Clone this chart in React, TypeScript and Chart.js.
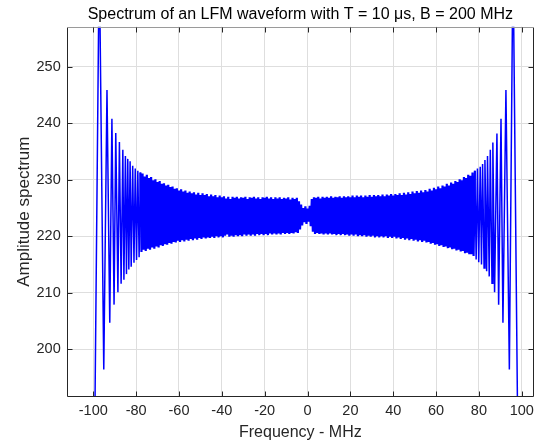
import React, { useEffect, useRef } from "react";
import { Chart, registerables } from "chart.js";

Chart.register(...registerables);

const TITLE = "Spectrum of an LFM waveform with T = 10 \u03bcs, B = 200 MHz";
const X_LABEL = "Frequency - MHz";
const Y_LABEL = "Amplitude spectrum";

const xTicks = [-100, -80, -60, -40, -20, 0, 20, 40, 60, 80, 100];
const yTicks = [200, 210, 220, 230, 240, 250];

// left band edge (large Fresnel ripples)
const leftEdgeFreq = [-99.4, -97.2, -95.1, -93.6, -92.3, -91.3, -90.3, -89.5, -88.5, -87.8, -87.0, -86.2, -85.7, -85.0, -84.5, -83.9, -83.4, -82.8, -82.3, -81.6, -81.0, -80.4, -79.8, -79.2, -78.6, -78.0];
const leftEdgeAmp = [182, 270, 196.4, 245.9, 204.7, 240.8, 207.9, 238.3, 210.1, 236.7, 211.6, 235.3, 212.3, 234.2, 213.3, 233.7, 214.1, 233.3, 214.6, 232.5, 215.3, 232.0, 215.8, 231.6, 216.3, 231.3];

// dense in-band ripple
const bandFreq = [
  -77.5, -77, -76.5, -76, -75.5, -75, -74.5, -74, -73.5, -73,
  -72.5, -72, -71.5, -71, -70.5, -70, -69.5, -69, -68.5, -68,
  -67.5, -67, -66.5, -66, -65.5, -65, -64.5, -64, -63.5, -63,
  -62.5, -62, -61.5, -61, -60.5, -60, -59.5, -59, -58.5, -58,
  -57.5, -57, -56.5, -56, -55.5, -55, -54.5, -54, -53.5, -53,
  -52.5, -52, -51.5, -51, -50.5, -50, -49.5, -49, -48.5, -48,
  -47.5, -47, -46.5, -46, -45.5, -45, -44.5, -44, -43.5, -43,
  -42.5, -42, -41.5, -41, -40.5, -40, -39.5, -39, -38.5, -38,
  -37.5, -37, -36.5, -36, -35.5, -35, -34.5, -34, -33.5, -33,
  -32.5, -32, -31.5, -31, -30.5, -30, -29.5, -29, -28.5, -28,
  -27.5, -27, -26.5, -26, -25.5, -25, -24.5, -24, -23.5, -23,
  -22.5, -22, -21.5, -21, -20.5, -20, -19.5, -19, -18.5, -18,
  -17.5, -17, -16.5, -16, -15.5, -15, -14.5, -14, -13.5, -13,
  -12.5, -12, -11.5, -11, -10.5, -10, -9.5, -9, -8.5, -8,
  -7.5, -7, -6.5, -6, -5.5, -5, -4.5, -4, -3.5, -3,
  -2.5, -2, -1.5, -1, -0.5, 0, 0.5, 1, 1.5, 2,
  2.5, 3, 3.5, 4, 4.5, 5, 5.5, 6, 6.5, 7,
  7.5, 8, 8.5, 9, 9.5, 10, 10.5, 11, 11.5, 12,
  12.5, 13, 13.5, 14, 14.5, 15, 15.5, 16, 16.5, 17,
  17.5, 18, 18.5, 19, 19.5, 20, 20.5, 21, 21.5, 22,
  22.5, 23, 23.5, 24, 24.5, 25, 25.5, 26, 26.5, 27,
  27.5, 28, 28.5, 29, 29.5, 30, 30.5, 31, 31.5, 32,
  32.5, 33, 33.5, 34, 34.5, 35, 35.5, 36, 36.5, 37,
  37.5, 38, 38.5, 39, 39.5, 40, 40.5, 41, 41.5, 42,
  42.5, 43, 43.5, 44, 44.5, 45, 45.5, 46, 46.5, 47,
  47.5, 48, 48.5, 49, 49.5, 50, 50.5, 51, 51.5, 52,
  52.5, 53, 53.5, 54, 54.5, 55, 55.5, 56, 56.5, 57,
  57.5, 58, 58.5, 59, 59.5, 60, 60.5, 61, 61.5, 62,
  62.5, 63, 63.5, 64, 64.5, 65, 65.5, 66, 66.5, 67,
  67.5, 68, 68.5, 69, 69.5, 70, 70.5, 71, 71.5, 72,
  72.5, 73, 73.5, 74, 74.5, 75, 75.5, 76, 76.5, 77,
  77.5,
];
const bandAmp = [
  217.2, 231.1, 217.6, 230.6, 217.4, 230.9, 217.8, 230.3, 217.6, 230.5,
  218.0, 229.9, 217.8, 230.1, 218.2, 229.6, 218.0, 229.8, 218.4, 229.3,
  218.3, 229.4, 218.6, 229.0, 218.5, 229.1, 218.8, 228.7, 218.7, 228.8,
  219.0, 228.4, 218.9, 228.5, 219.2, 228.1, 219.0, 228.3, 219.3, 227.9,
  219.1, 228.1, 219.4, 227.7, 219.2, 227.9, 219.5, 227.6, 219.3, 227.8,
  219.6, 227.4, 219.4, 227.7, 219.7, 227.3, 219.5, 227.6, 219.8, 227.3,
  219.6, 227.5, 219.8, 227.1, 219.7, 227.4, 219.9, 227.1, 219.7, 227.3,
  220.0, 226.9, 219.8, 227.2, 220.0, 226.9, 219.8, 227.1, 220.1, 226.7,
  220.3, 227.0, 219.9, 226.6, 220.1, 227.0, 219.9, 226.8, 220.2, 227.0,
  220.0, 226.7, 220.2, 226.9, 220.0, 226.8, 220.3, 227.0, 220.1, 226.6,
  220.3, 226.9, 220.1, 226.8, 220.3, 227.0, 220.1, 226.7, 220.4, 226.9,
  220.2, 226.6, 220.4, 226.9, 220.2, 226.8, 220.4, 227.0, 220.2, 226.7,
  220.5, 226.9, 220.3, 226.6, 220.5, 226.9, 220.3, 226.7, 220.5, 226.9,
  220.3, 226.6, 220.6, 226.8, 220.4, 226.7, 220.6, 226.9, 220.4, 226.5,
  220.6, 226.8, 220.5, 226.6, 220.7, 226.8, 220.6, 226.2, 221.2, 225.6,
  221.9, 225.0, 222.5, 225.3, 222.2, 224.9, 222.6, 225.4, 221.8, 226.6,
  220.8, 226.9, 220.4, 226.8, 220.6, 227.0, 220.4, 226.7, 220.5, 227.0,
  220.3, 226.8, 220.5, 227.0, 220.3, 226.8, 220.5, 227.1, 220.3, 226.8,
  220.4, 227.0, 220.2, 226.9, 220.4, 227.1, 220.2, 226.8, 220.4, 227.1,
  220.2, 226.9, 220.3, 227.1, 220.1, 226.9, 220.3, 227.2, 220.1, 226.9,
  220.3, 227.2, 220.0, 227.0, 220.2, 227.2, 220.0, 226.9, 220.2, 227.2,
  219.9, 227.0, 220.1, 227.3, 219.9, 227.0, 220.1, 227.3, 219.8, 227.1,
  220.0, 227.3, 219.8, 227.1, 220.0, 227.4, 219.8, 227.1, 220.0, 227.4,
  219.7, 227.2, 219.9, 227.5, 219.7, 227.2, 219.9, 227.5, 219.6, 227.3,
  219.8, 227.6, 219.5, 227.3, 219.7, 227.7, 219.4, 227.4, 219.6, 227.8,
  219.3, 227.5, 219.5, 227.9, 219.2, 227.6, 219.4, 228.0, 219.1, 227.7,
  219.3, 228.1, 219.0, 227.8, 219.2, 228.2, 218.9, 227.9, 219.0, 228.4,
  218.7, 228.1, 218.8, 228.6, 218.5, 228.3, 218.6, 228.8, 218.3, 228.5,
  218.4, 229.0, 218.1, 228.8, 218.2, 229.3, 217.9, 229.0, 218.0, 229.5,
  217.7, 229.3, 217.8, 229.8, 217.5, 229.6, 217.6, 230.1, 217.3, 229.9,
  217.4, 230.5, 217.0, 230.3, 217.1, 230.9, 216.8, 230.7, 216.8, 231.3,
  216.5,
];

// right band edge
const rightEdgeFreq = [78.1, 78.7, 79.3, 79.9, 80.6, 81.2, 81.7, 82.4, 82.8, 83.6, 84.0, 84.8, 85.3, 86.1, 86.5, 87.3, 88.4, 89.2, 90.3, 91.2, 92.6, 94.2, 95.9, 98.2];
const rightEdgeAmp = [231.6, 215.9, 232.0, 215.4, 232.3, 215.0, 232.8, 214.4, 233.5, 213.8, 234.2, 212.9, 235.3, 211.7, 236.6, 210.1, 238.2, 207.9, 240.8, 204.7, 245.9, 196.4, 270, 182];

const X_MIN = -112.4;
const X_MAX = 105.7;
const Y_MIN = 191.6;
const Y_MAX = 257.1;

const FONT = "'Liberation Sans', Arial, Helvetica, sans-serif";
const AXIS_COLOR = "#262626";

const framePlugin = {
  id: "matlabFrame",
  afterDraw(chart: any) {
    const { ctx, chartArea } = chart;
    const { left, right, top, bottom } = chartArea;
    const xs = chart.scales.x;
    const ys = chart.scales.y;
    const L = Math.round(left) + 0.5;
    const R = Math.round(right) - 0.5;
    const T = Math.round(top) + 0.5;
    const B = Math.round(bottom) - 0.5;
    ctx.save();
    ctx.lineWidth = 1;
    ctx.strokeStyle = AXIS_COLOR;
    ctx.beginPath();
    ctx.moveTo(L, T);
    ctx.lineTo(L, B);
    ctx.lineTo(R, B);
    ctx.lineTo(R, T);
    ctx.stroke();
    ctx.strokeStyle = "#9a9a9a";
    ctx.beginPath();
    ctx.moveTo(L, T);
    ctx.lineTo(R, T);
    ctx.stroke();
    ctx.strokeStyle = AXIS_COLOR;
    const tl = 5;
    ctx.beginPath();
    for (const v of xTicks) {
      const px = Math.round(xs.getPixelForValue(v)) + 0.5;
      ctx.moveTo(px, B);
      ctx.lineTo(px, B - tl);
      ctx.moveTo(px, T);
      ctx.lineTo(px, T + tl);
    }
    for (const v of yTicks) {
      const py = Math.round(ys.getPixelForValue(v)) + 0.5;
      ctx.moveTo(L, py);
      ctx.lineTo(L + tl, py);
      ctx.moveTo(R, py);
      ctx.lineTo(R - tl, py);
    }
    ctx.stroke();
    ctx.restore();
  },
};

export default function App() {
  const ref = useRef<HTMLCanvasElement | null>(null);

  useEffect(() => {
    if (!ref.current) return;
    const leftPts = leftEdgeFreq.map((f, i) => ({ x: f, y: leftEdgeAmp[i] }));
    const rightPts = rightEdgeFreq.map((f, i) => ({ x: f, y: rightEdgeAmp[i] }));
    const bandPts = [
      leftPts[leftPts.length - 1],
      ...bandFreq.map((f, i) => ({ x: f, y: bandAmp[i] })),
      rightPts[0],
    ];
    const common = {
      borderColor: "#0000ff",
      pointRadius: 0,
      tension: 0,
      fill: false,
    };

    const chart = new Chart(ref.current, {
      type: "line",
      data: {
        datasets: [
          { ...common, data: leftPts, borderWidth: 1.5 },
          { ...common, data: bandPts, borderWidth: 2.2 },
          { ...common, data: rightPts, borderWidth: 1.5 },
        ],
      },
      options: {
        animation: false,
        responsive: false,
        devicePixelRatio: 1,
        layout: { padding: { left: 0, right: 7, top: 0, bottom: 0 } },
        plugins: {
          legend: { display: false },
          tooltip: { enabled: false },
          title: {
            display: true,
            text: TITLE,
            fullSize: false,
            color: "#000000",
            font: { family: FONT, size: 16, weight: "normal" },
            padding: { top: 4.5, bottom: 3 },
          },
        },
        scales: {
          x: {
            type: "linear",
            min: X_MIN,
            max: X_MAX,
            afterBuildTicks: (s: any) => {
              s.ticks = xTicks.map((v) => ({ value: v }));
            },
            afterFit: (s: any) => {
              s.height = 46.3;
            },
            grid: { color: "#dedede", drawTicks: false },
            border: { display: false },
            ticks: {
              color: AXIS_COLOR,
              font: { family: FONT, size: 14.5 },
              padding: 6,
              maxRotation: 0,
              autoSkip: false,
              callback: (v: any) => String(v),
            },
            title: {
              display: true,
              text: X_LABEL,
              color: AXIS_COLOR,
              font: { family: FONT, size: 16 },
              padding: { top: 0, bottom: 1 },
            },
          },
          y: {
            type: "linear",
            min: Y_MIN,
            max: Y_MAX,
            afterBuildTicks: (s: any) => {
              s.ticks = yTicks.map((v) => ({ value: v }));
            },
            afterFit: (s: any) => {
              s.width = 66.7;
            },
            grid: { color: "#dedede", drawTicks: false },
            border: { display: false },
            ticks: {
              color: AXIS_COLOR,
              font: { family: FONT, size: 14.5 },
              padding: 6,
              autoSkip: false,
              callback: (v: any) => String(v),
            },
            title: {
              display: true,
              text: Y_LABEL,
              color: AXIS_COLOR,
              font: { family: FONT, size: 17 },
              padding: { top: 14.5, bottom: 0 },
            },
          },
        },
      },
      plugins: [framePlugin],
    });
    return () => chart.destroy();
  }, []);

  return (
    <div style={{ position: "absolute", left: 0, top: 0, width: 541, height: 443, background: "#ffffff" }}>
      <canvas ref={ref} width={541} height={443} style={{ display: "block" }} />
    </div>
  );
}
